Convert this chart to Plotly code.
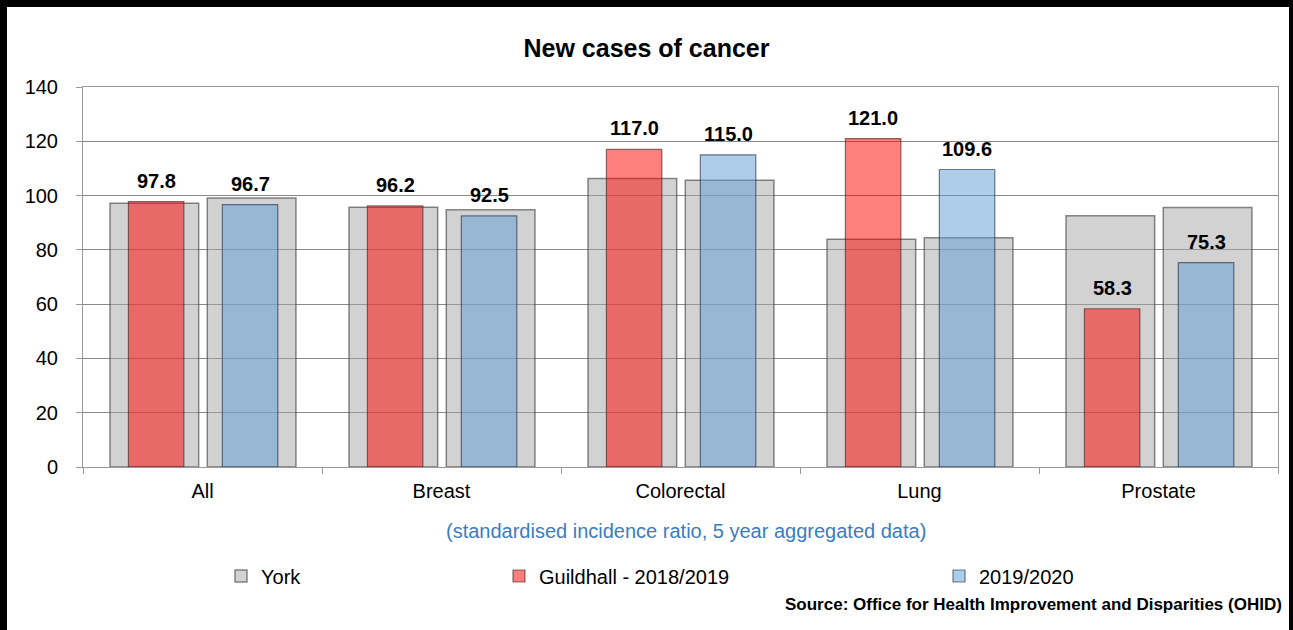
import plotly.graph_objects as go

# ---- data -------------------------------------------------------------
categories = ["All", "Breast", "Colorectal", "Lung", "Prostate"]
york_a = [97.2, 95.7, 106.3, 83.9, 92.6]      # York, behind 2018/2019 bars
york_b = [99.1, 94.8, 105.6, 84.5, 95.6]      # York, behind 2019/2020 bars
guildhall_1819 = [97.8, 96.2, 117.0, 121.0, 58.3]
guildhall_1920 = [96.7, 92.5, 115.0, 109.6, 75.3]
y_ticks = [0, 20, 40, 60, 80, 100, 120, 140]

# ---- geometry (pixels) ------------------------------------------------
W, H = 1293, 630
ML, MR, MT, MB = 83, 15, 87, 163
PW, PH = W - ML - MR, H - MT - MB

def px_x(px):
    return (px - ML) / PW

def px_y(py):
    return (H - MB - py) / PH

FONT = "Liberation Sans, Arial, sans-serif"

# bar slot layout within one category (category width = 1)
GREY_W, GREY_A_OFF, GREY_B_OFF = 0.371, -0.387, 0.020
COL_W, RED_OFF, BLUE_OFF = 0.232, -0.310, 0.083

grey_fill = "rgba(166,166,166,0.5)"
red_fill = "rgba(255,0,0,0.5)"
blue_fill = "rgba(91,155,213,0.5)"

fig = go.Figure()
fig.add_trace(go.Bar(
    x=categories, y=york_a, name="York", width=GREY_W, offset=GREY_A_OFF,
    marker=dict(color=grey_fill, line=dict(color="rgba(60,60,60,0.6)", width=1.5)),
    legend="legend", hoverinfo="y"))
fig.add_trace(go.Bar(
    x=categories, y=york_b, name="York", width=GREY_W, offset=GREY_B_OFF,
    marker=dict(color=grey_fill, line=dict(color="rgba(60,60,60,0.6)", width=1.5)),
    showlegend=False, hoverinfo="y"))
fig.add_trace(go.Bar(
    x=categories, y=guildhall_1819, name="Guildhall - 2018/2019", width=COL_W, offset=RED_OFF,
    marker=dict(color=red_fill, line=dict(color="rgba(60,30,30,0.6)", width=1.2)),
    legend="legend2", hoverinfo="y"))
fig.add_trace(go.Bar(
    x=categories, y=guildhall_1920, name="2019/2020", width=COL_W, offset=BLUE_OFF,
    marker=dict(color=blue_fill, line=dict(color="rgba(30,40,60,0.6)", width=1.2)),
    legend="legend3", hoverinfo="y"))

# value labels above the coloured bars
annotations = []
for values, off in ((guildhall_1819, RED_OFF), (guildhall_1920, BLUE_OFF)):
    for i, v in enumerate(values):
        annotations.append(dict(
            x=i + off + COL_W / 2, y=v, xref="x", yref="y",
            text=f"<b>{v:.1f}</b>", showarrow=False,
            yanchor="bottom", xanchor="center", yshift=8,
            font=dict(family=FONT, size=20, color="#000000")))

annotations.append(dict(
    x=px_x(686), y=px_y(531), xref="paper", yref="paper",
    text="(standardised incidence ratio, 5 year aggregated data)",
    showarrow=False, xanchor="center", yanchor="middle",
    font=dict(family=FONT, size=20, color="#3A7DC0")))
annotations.append(dict(
    x=px_x(1284), y=px_y(604), xref="paper", yref="paper",
    text="<b>Source: Office for Health Improvement and Disparities (OHID)</b>",
    showarrow=False, xanchor="right", yanchor="middle",
    font=dict(family=FONT, size=17, color="#000000")))

# heavy black frame round the chart
frame = [
    dict(x0=px_x(0), x1=px_x(7), y0=px_y(H), y1=px_y(0)),
    dict(x0=px_x(0), x1=px_x(W), y0=px_y(7), y1=px_y(0)),
    dict(x0=px_x(W - 4), x1=px_x(W), y0=px_y(H), y1=px_y(0)),
]
shapes = [dict(type="rect", xref="paper", yref="paper", fillcolor="#000000",
               line=dict(width=0), layer="above", **f) for f in frame]

legend_style = dict(orientation="h", yanchor="middle", xanchor="left",
                    y=px_y(576), bgcolor="rgba(0,0,0,0)",
                    font=dict(family=FONT, size=20, color="#000000"))

fig.update_layout(
    width=W, height=H, autosize=False,
    margin=dict(l=ML, r=MR, t=MT, b=MB, pad=0),
    paper_bgcolor="#ffffff", plot_bgcolor="#ffffff",
    barmode="overlay",
    font=dict(family=FONT, size=20, color="#000000"),
    title=dict(text="<b>New cases of cancer</b>", x=0.5, xref="container",
               y=1 - 48 / H, yref="container", yanchor="middle", xanchor="center",
               font=dict(family=FONT, size=25, color="#000000")),
    xaxis=dict(type="category", range=[-0.5, len(categories) - 0.5],
               showline=True, linecolor="#9a9a9a", linewidth=1, mirror=True,
               ticks="outside", tickson="boundaries", ticklen=6, tickcolor="#9a9a9a",
               ticklabelstandoff=6,
               showgrid=False, tickfont=dict(family=FONT, size=20, color="#000000")),
    yaxis=dict(range=[0, 140], tickvals=y_ticks, showline=True, linecolor="#9a9a9a",
               linewidth=1, mirror=True, ticks="outside", ticklen=6, tickcolor="#9a9a9a",
               showgrid=True, gridcolor="#8a8a8a", gridwidth=1, zeroline=False,
               ticklabelstandoff=14,
               tickfont=dict(family=FONT, size=20, color="#000000")),
    legend=dict(x=px_x(221), **legend_style),
    legend2=dict(x=px_x(499), **legend_style),
    legend3=dict(x=px_x(939), **legend_style),
    annotations=annotations,
    shapes=shapes,
)

fig.write_html("out.html")
